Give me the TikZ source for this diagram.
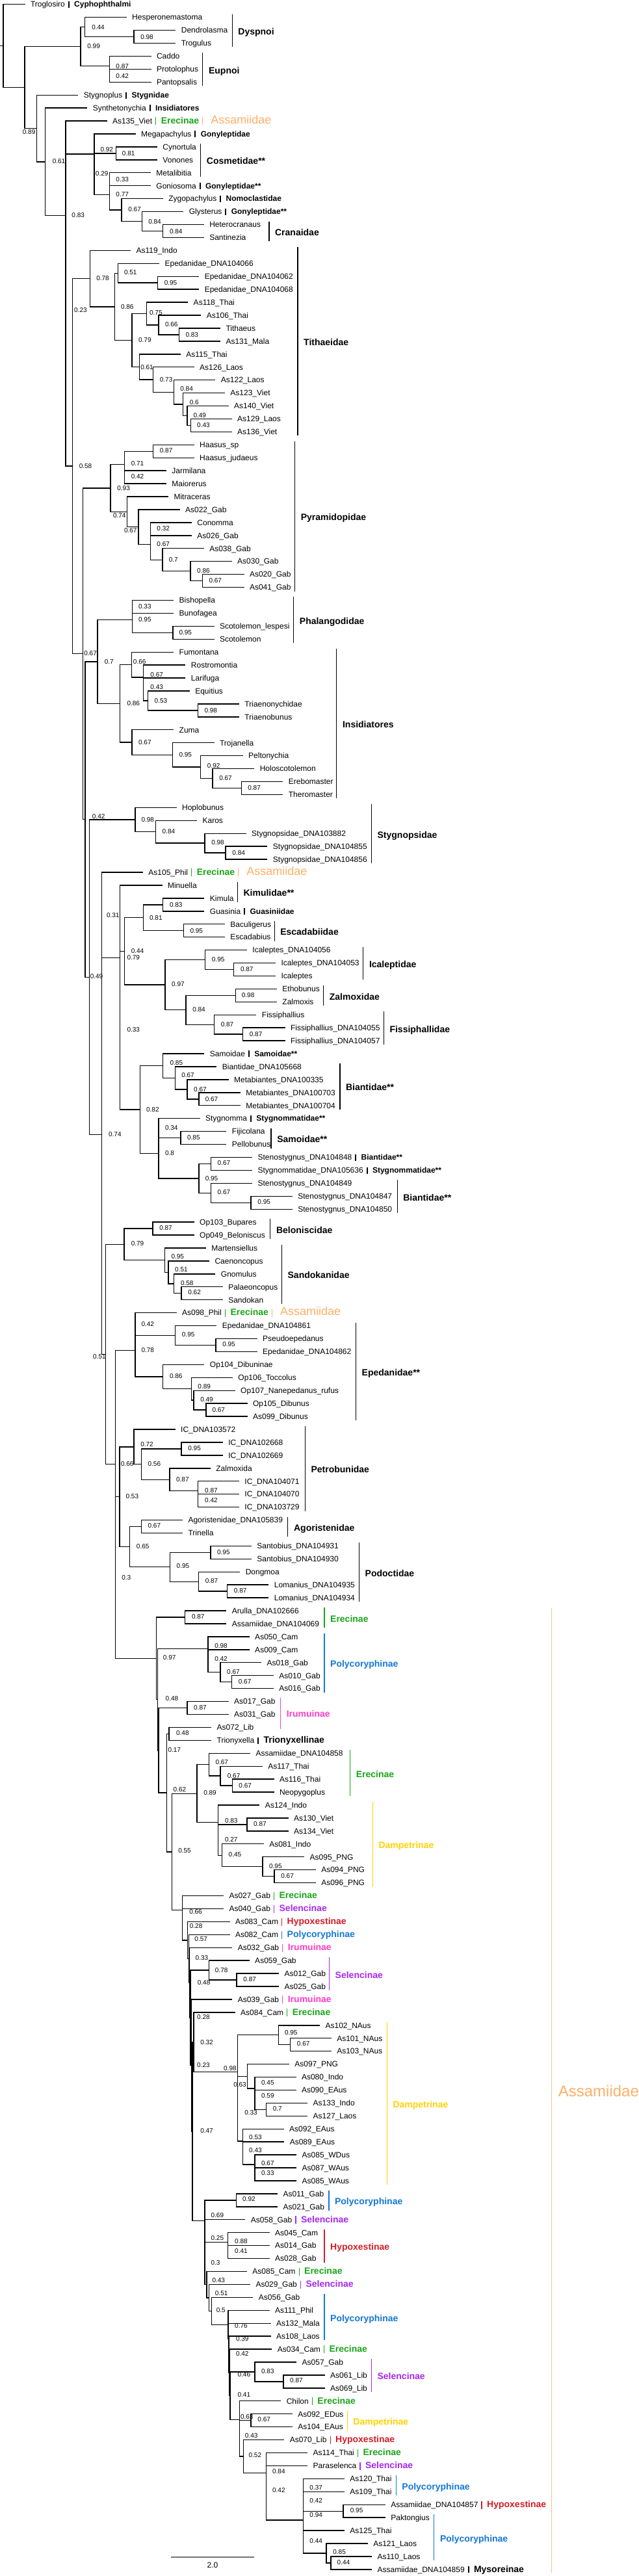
\documentclass[tikz,border=0pt]{standalone}
\usepackage{fontspec}
\setmainfont{Liberation Sans}
\usetikzlibrary{calc}
\definecolor{cE}{RGB}{25,165,25}
\definecolor{cP}{RGB}{20,120,215}
\definecolor{cI}{RGB}{255,60,200}
\definecolor{cS}{RGB}{165,40,240}
\definecolor{cH}{RGB}{210,30,40}
\definecolor{cD}{RGB}{255,210,0}
\definecolor{cA}{RGB}{255,175,105}
\definecolor{cAb}{RGB}{247,195,145}
\newcommand\lbk[1]{\hspace{5pt}\vrule width 1.8pt height 9pt depth 1pt\hspace{7.5pt}\textbf{#1}}
\newcommand\lbkb[1]{\hspace{5pt}\vrule width 1.8pt height 9pt depth 1pt\hspace{7.5pt}{\fontsize{14}{16}\selectfont\bfseries #1}}
\newcommand\lcl[2]{\hspace{5pt}{\color{#1}\vrule width 1.2pt height 10pt depth 2pt}\hspace{7.5pt}{\color{#1}\fontsize{14}{16}\selectfont\bfseries #2}}
\newcommand\lass{\hspace{5pt}{\color{cA}\vrule width 1.2pt height 10pt depth 2pt}\hspace{12pt}{\color{cA}\fontsize{18}{20}\selectfont Assamiidae}}
\newcommand\lf[3]{\coordinate (l#1) at (#2,{6.7+(#1-1)*19.93}); \node[leaf] (t#1) at (l#1) {#3};}
\newcommand\nd[7]{%
 \coordinate (tmp) at ($(#3)!0.5!(#4)$);
 \coordinate (#1) at (#2,0 |- tmp);
 \draw[br] (#1) |- (#3);
 \draw[br] (#1) |- (#4);
 \node[sup] (s#1) at (#6,#7) {#5};}
\newcommand\ndn[4]{%
 \coordinate (tmp) at ($(#3)!0.5!(#4)$);
 \coordinate (#1) at (#2,0 |- tmp);
 \draw[br] (#1) |- (#3);
 \draw[br] (#1) |- (#4);}
\newcommand\clb[5]{%
 \draw[cbar,#4] (#1,{6.7+(#2-1)*19.93-5}) -- (#1,{6.7+(#3-1)*19.93+6});
 \node[clab,text=#4] (cl#1x#2) at (#1,{6.7+(#2+#3-2)*19.93/2+2}) {#5};}
\begin{document}
\begin{tikzpicture}[x=0.63pt,y=-1pt,
 br/.style={line width=1.4pt,line cap=rect,line join=miter,black},
 cbar/.style={line width=1.2pt},
 leaf/.style={anchor=west,inner sep=0pt,xshift=9pt,text height=8.6pt,text depth=0pt,font=\fontsize{12}{14}\selectfont},
 sup/.style={anchor=west,inner sep=0pt,text height=7.2pt,text depth=0pt,font=\fontsize{10}{12}\selectfont},
 clab/.style={anchor=west,inner sep=0pt,xshift=9pt,text height=10pt,text depth=0pt,font=\fontsize{14}{16}\selectfont\bfseries}]
\useasboundingbox (0,0) rectangle (1560.3,3963);
\fill[white] (0,0) rectangle (1560.3,3963);
% leaves
\lf{1}{60}{Troglosiro\lbk{Cyphophthalmi}}
\lf{2}{308}{Hesperonemastoma}
\lf{3}{428}{Dendrolasma}
\lf{4}{428}{Trogulus}
\lf{5}{368}{Caddo}
\lf{6}{368}{Protolophus}
\lf{7}{368}{Pantopsalis}
\lf{8}{190}{Stygnoplus\lbk{Stygnidae}}
\lf{9}{212}{Synthetonychia\lbk{Insidiatores}}
\lf{10}{260}{As135\_Viet\lcl{cE}{Erecinae}\lass}
\lf{11}{330}{Megapachylus\lbk{Gonyleptidae}}
\lf{12}{383}{Cynortula}
\lf{13}{383}{Vonones}
\lf{14}{367}{Metalibitia}
\lf{15}{367}{Goniosoma\lbk{Gonyleptidae**}}
\lf{16}{397}{Zygopachylus\lbk{Nomoclastidae}}
\lf{17}{447}{Glysterus\lbk{Gonyleptidae**}}
\lf{18}{497}{Heterocranaus}
\lf{19}{497}{Santinezia}
\lf{20}{318}{As119\_Indo}
\lf{21}{388}{Epedanidae\_DNA104066}
\lf{22}{485}{Epedanidae\_DNA104062}
\lf{23}{485}{Epedanidae\_DNA104068}
\lf{24}{458}{As118\_Thai}
\lf{25}{490}{As106\_Thai}
\lf{26}{537}{Tithaeus}
\lf{27}{537}{As131\_Mala}
\lf{28}{440}{As115\_Thai}
\lf{29}{473}{As126\_Laos}
\lf{30}{525}{As122\_Laos}
\lf{31}{548}{As123\_Viet}
\lf{32}{557}{As140\_Viet}
\lf{33}{565}{As129\_Laos}
\lf{34}{565}{As136\_Viet}
\lf{35}{473}{Haasus\_sp}
\lf{36}{473}{Haasus\_judaeus}
\lf{37}{405}{Jarmilana}
\lf{38}{405}{Maiorerus}
\lf{39}{410}{Mitraceras}
\lf{40}{438}{As022\_Gab}
\lf{41}{467}{Conomma}
\lf{42}{467}{As026\_Gab}
\lf{43}{497}{As038\_Gab}
\lf{44}{565}{As030\_Gab}
\lf{45}{595}{As020\_Gab}
\lf{46}{595}{As041\_Gab}
\lf{47}{423}{Bishopella}
\lf{48}{423}{Bunofagea}
\lf{49}{522}{Scotolemon\_lespesi}
\lf{50}{522}{Scotolemon}
\lf{51}{423}{Fumontana}
\lf{52}{452}{Rostromontia}
\lf{53}{452}{Larifuga}
\lf{54}{462}{Equitius}
\lf{55}{583}{Triaenonychidae}
\lf{56}{583}{Triaenobunus}
\lf{57}{423}{Zuma}
\lf{58}{522}{Trojanella}
\lf{59}{592}{Peltonychia}
\lf{60}{620}{Holoscotolemon}
\lf{61}{690}{Erebomaster}
\lf{62}{690}{Theromaster}
\lf{63}{430}{Hoplobunus}
\lf{64}{480}{Karos}
\lf{65}{600}{Stygnopsidae\_DNA103882}
\lf{66}{652}{Stygnopsidae\_DNA104855}
\lf{67}{652}{Stygnopsidae\_DNA104856}
\lf{68}{348}{As105\_Phil\lcl{cE}{Erecinae}\lass}
\lf{69}{395}{Minuella}
\lf{70}{498}{Kimula}
\lf{71}{498}{Guasinia\lbk{Guasiniidae}}
\lf{72}{548}{Baculigerus}
\lf{73}{548}{Escadabius}
\lf{74}{602}{Icaleptes\_DNA104056}
\lf{75}{672}{Icaleptes\_DNA104053}
\lf{76}{672}{Icaleptes}
\lf{77}{675}{Ethobunus}
\lf{78}{675}{Zalmoxis}
\lf{79}{625}{Fissiphallius}
\lf{80}{695}{Fissiphallius\_DNA104055}
\lf{81}{695}{Fissiphallius\_DNA104057}
\lf{82}{498}{Samoidae\lbk{Samoidae**}}
\lf{83}{528}{Biantidae\_DNA105668}
\lf{84}{557}{Metabiantes\_DNA100335}
\lf{85}{586}{Metabiantes\_DNA100703}
\lf{86}{586}{Metabiantes\_DNA100704}
\lf{87}{487}{Stygnomma\lbk{Stygnommatidae**}}
\lf{88}{552}{Fijicolana}
\lf{89}{552}{Pellobunus}
\lf{90}{615}{Stenostygnus\_DNA104848\lbk{Biantidae**}}
\lf{91}{615}{Stygnommatidae\_DNA105636\lbk{Stygnommatidae**}}
\lf{92}{615}{Stenostygnus\_DNA104849}
\lf{93}{713}{Stenostygnus\_DNA104847}
\lf{94}{713}{Stenostygnus\_DNA104850}
\lf{95}{473}{Op103\_Bupares}
\lf{96}{473}{Op049\_Beloniscus}
\lf{97}{502}{Martensiellus}
\lf{98}{510}{Caenoncopus}
\lf{99}{525}{Gnomulus}
\lf{100}{543}{Palaeoncopus}
\lf{101}{543}{Sandokan}
\lf{102}{430}{As098\_Phil\lcl{cE}{Erecinae}\lass}
\lf{103}{528}{Epedanidae\_DNA104861}
\lf{104}{627}{Pseudoepedanus}
\lf{105}{627}{Epedanidae\_DNA104862}
\lf{106}{498}{Op104\_Dibuninae}
\lf{107}{567}{Op106\_Toccolus}
\lf{108}{573}{Op107\_Nanepedanus\_rufus}
\lf{109}{603}{Op105\_Dibunus}
\lf{110}{603}{As099\_Dibunus}
\lf{111}{427}{IC\_DNA103572}
\lf{112}{543}{IC\_DNA102668}
\lf{113}{543}{IC\_DNA102669}
\lf{114}{513}{Zalmoxida}
\lf{115}{583}{IC\_DNA104071}
\lf{116}{583}{IC\_DNA104070}
\lf{117}{583}{IC\_DNA103729}
\lf{118}{445}{Agoristenidae\_DNA105839}
\lf{119}{445}{Trinella}
\lf{120}{613}{Santobius\_DNA104931}
\lf{121}{613}{Santobius\_DNA104930}
\lf{122}{585}{Dongmoa}
\lf{123}{655}{Lomanius\_DNA104935}
\lf{124}{655}{Lomanius\_DNA104934}
\lf{125}{552}{Arulla\_DNA102666}
\lf{126}{552}{Assamiidae\_DNA104069}
\lf{127}{608}{As050\_Cam}
\lf{128}{608}{As009\_Cam}
\lf{129}{637}{As018\_Gab}
\lf{130}{667}{As010\_Gab}
\lf{131}{667}{As016\_Gab}
\lf{132}{557}{As017\_Gab}
\lf{133}{557}{As031\_Gab}
\lf{134}{515}{As072\_Lib}
\lf{135}{515}{Trionyxella\lbkb{Trionyxellinae}}
\lf{136}{610}{Assamiidae\_DNA104858}
\lf{137}{640}{As117\_Thai}
\lf{138}{668}{As116\_Thai}
\lf{139}{668}{Neopygoplus}
\lf{140}{633}{As124\_Indo}
\lf{141}{703}{As130\_Viet}
\lf{142}{703}{As134\_Viet}
\lf{143}{643}{As081\_Indo}
\lf{144}{742}{As095\_PNG}
\lf{145}{770}{As094\_PNG}
\lf{146}{770}{As096\_PNG}
\lf{147}{545}{As027\_Gab\lcl{cE}{Erecinae}}
\lf{148}{545}{As040\_Gab\lcl{cS}{Selencinae}}
\lf{149}{560}{As083\_Cam\lcl{cH}{Hypoxestinae}}
\lf{150}{560}{As082\_Cam\lcl{cP}{Polycoryphinae}}
\lf{151}{566}{As032\_Gab\lcl{cI}{Irumuinae}}
\lf{152}{608}{As059\_Gab}
\lf{153}{680}{As012\_Gab}
\lf{154}{680}{As025\_Gab}
\lf{155}{566}{As039\_Gab\lcl{cI}{Irumuinae}}
\lf{156}{573}{As084\_Cam\lcl{cE}{Erecinae}}
\lf{157}{780}{As102\_NAus}
\lf{158}{808}{As101\_NAus}
\lf{159}{808}{As103\_NAus}
\lf{160}{705}{As097\_PNG}
\lf{161}{722}{As080\_Indo}
\lf{162}{722}{As090\_EAus}
\lf{163}{750}{As133\_Indo}
\lf{164}{750}{As127\_Laos}
\lf{165}{692}{As092\_EAus}
\lf{166}{693}{As089\_EAus}
\lf{167}{723}{As085\_WDus}
\lf{168}{723}{As087\_WAus}
\lf{169}{723}{As085\_WAus}
\lf{170}{677}{As011\_Gab}
\lf{171}{677}{As021\_Gab}
\lf{172}{598}{As058\_Gab\lcl{cS}{Selencinae}}
\lf{173}{657}{As045\_Cam}
\lf{174}{657}{As014\_Gab}
\lf{175}{657}{As028\_Gab}
\lf{176}{602}{As085\_Cam\lcl{cE}{Erecinae}}
\lf{177}{610}{As029\_Gab\lcl{cS}{Selencinae}}
\lf{178}{617}{As056\_Gab}
\lf{179}{657}{As111\_Phil}
\lf{180}{660}{As132\_Mala}
\lf{181}{660}{As108\_Laos}
\lf{182}{663}{As034\_Cam\lcl{cE}{Erecinae}}
\lf{183}{723}{As057\_Gab}
\lf{184}{792}{As061\_Lib}
\lf{185}{792}{As069\_Lib}
\lf{186}{685}{Chilon\lcl{cE}{Erecinae}}
\lf{187}{713}{As092\_EDus}
\lf{188}{713}{As104\_EAus}
\lf{189}{693}{As070\_Lib\lcl{cH}{Hypoxestinae}}
\lf{190}{750}{As114\_Thai\lcl{cE}{Erecinae}}
\lf{191}{750}{Paraselenca\lcl{cS}{Selencinae}}
\lf{192}{840}{As120\_Thai}
\lf{193}{840}{As109\_Thai}
\lf{194}{940}{Assamiidae\_DNA104857\lcl{cH}{Hypoxestinae}}
\lf{195}{940}{Paktongius}
\lf{196}{840}{As125\_Thai}
\lf{197}{897}{As121\_Laos}
\lf{198}{907}{As110\_Laos}
\lf{199}{907}{Assamiidae\_DNA104859\lbkb{Mysoreinae}}
% internal nodes (children before parents)
\nd{f10}{808}{l198}{l199}{0.44}{823}{3941.7}
\nd{f9}{797}{l197}{f10}{0.85}{813}{3925.7}
\nd{f8}{740}{l196}{f9}{0.44}{756}{3909.3}
\nd{hy0}{838}{l194}{l195}{0.95}{855}{3861.7}
\nd{f7}{740}{l192}{l193}{0.37}{756}{3826.7}
\nd{f6}{740}{f7}{hy0}{0.42}{756}{3846.7}
\nd{f5}{740}{f6}{f8}{0.94}{756}{3869.3}
\nd{f4}{650}{l191}{f5}{0.42}{665}{3830.7}
\nd{f3}{650}{l190}{f4}{0.84}{665}{3801.7}
\nd{f2}{594}{l189}{f3}{0.52}{607}{3776.7}
\nd{dm0}{613}{l187}{l188}{0.67}{629}{3722.3}
\nd{f1}{585}{dm0}{f2}{0.43}{598}{3746.7}
\nd{f0}{585}{l186}{f1}{0.63}{587}{3717.7}
\nd{se1}{692}{l184}{l185}{0.87}{708}{3662.3}
\nd{se0}{622}{l183}{se1}{0.83}{638}{3647.7}
\nd{k5}{562}{se0}{f0}{0.41}{580}{3684.3}
\nd{k4}{560}{l182}{k5}{0.46}{580}{3653.3}
\nd{k3}{559}{l181}{k4}{0.42}{576}{3620.7}
\nd{k2}{558}{l180}{k3}{0.39}{576}{3598.3}
\nd{k1}{557}{l179}{k2}{0.76}{573}{3577.7}
\nd{ld6}{517}{l178}{k1}{0.5}{528}{3554.3}
\nd{ld5}{510}{l177}{ld6}{0.51}{525}{3528.3}
\nd{ld4}{505}{l176}{ld5}{0.43}{518}{3508.3}
\nd{hx1}{556}{l174}{l175}{0.41}{573}{3463.3}
\nd{hx0}{556}{l173}{hx1}{0.88}{573}{3448.3}
\nd{ld3}{500}{hx0}{ld4}{0.3}{515}{3480.7}
\nd{ld2}{500}{l172}{ld3}{0.25}{515}{3443.3}
\nd{ld1}{577}{l170}{l171}{0.92}{592}{3383.3}
\nd{ld0}{500}{ld1}{ld2}{0.69}{515}{3408.3}
\nd{da9}{622}{l168}{l169}{0.33}{638}{3343.3}
\nd{da8}{622}{l167}{da9}{0.67}{638}{3328.3}
\nd{da7}{593}{l166}{da8}{0.43}{608}{3308.3}
\nd{da6}{593}{l165}{da7}{0.53}{608}{3288.3}
\nd{da5b}{650}{l163}{l164}{0.7}{666}{3244.3}
\nd{da5}{622}{l162}{da5b}{0.59}{638}{3224.3}
\nd{da4}{622}{l161}{da5}{0.45}{638}{3204.3}
\nd{da3}{604}{l160}{da4}{0.63}{570}{3206.7}
\nd{da2}{580}{da3}{da6}{0.33}{597}{3250}
\nd{da1b}{709}{l158}{l159}{0.67}{725}{3144.3}
\nd{da1}{680}{l157}{da1b}{0.95}{695}{3127.3}
\nd{da0}{580}{da1}{da2}{0.98}{546}{3181.7}
\nd{lw8}{473}{l156}{da0}{0.32}{489}{3141.7}
\nd{lw7}{470}{lw8}{ld0}{0.47}{489}{3278.3}
\nd{lw6}{467}{l155}{lw7}{0.23}{481}{3176.7}
\nd{sl1}{578}{l153}{l154}{0.87}{594}{3045}
\nd{sl0}{510}{l152}{sl1}{0.78}{525}{3030.7}
\nd{lw5}{465}{sl0}{lw6}{0.28}{481}{3103.3}
\nd{lw4}{463}{l151}{lw5}{0.48}{482}{3050}
\nd{lw3}{461}{l150}{lw4}{0.33}{477}{3012.3}
\nd{lw2}{458}{l149}{lw3}{0.57}{475}{2983.3}
\nd{lw1}{445}{l148}{lw2}{0.28}{463}{2962.7}
\nd{lw0}{445}{l147}{lw1}{0.66}{462}{2940.7}
\nd{dp5}{670}{l145}{l146}{0.67}{686}{2885.7}
\nd{dp4}{641}{l144}{dp5}{0.95}{657}{2870.7}
\nd{dp3}{542}{l143}{dp4}{0.45}{558}{2853.3}
\nd{dp2}{603}{l141}{l142}{0.87}{619}{2805.7}
\nd{dp1}{533}{dp2}{dp3}{0.27}{549}{2830}
\nd{dp0}{533}{l140}{dp1}{0.83}{549}{2800.7}
\nd{er3}{567}{l138}{l139}{0.67}{583}{2746.7}
\nd{er2}{538}{l137}{er3}{0.67}{555}{2731.7}
\nd{er1}{510}{l136}{er2}{0.67}{526}{2710.7}
\nd{er0}{481}{er1}{dp0}{0.89}{497}{2758.3}
\nd{as5}{420}{er0}{lw0}{0.55}{435}{2847.3}
\nd{tr0}{413}{l134}{l135}{0.48}{430}{2666}
\nd{as4}{407}{tr0}{as5}{0.62}{423}{2753.3}
\nd{ir0}{457}{l132}{l133}{0.87}{473}{2626.7}
\nd{as3}{387}{ir0}{as4}{0.17}{410}{2691.7}
\nd{pc3}{566}{l130}{l131}{0.67}{582}{2586.7}
\nd{pc2}{538}{l129}{pc3}{0.67}{554}{2571.7}
\nd{pc1}{508}{l128}{pc2}{0.42}{524}{2551.7}
\nd{pc0}{508}{l127}{pc1}{0.98}{524}{2531.7}
\nd{as2}{385}{pc0}{as3}{0.48}{404}{2613.3}
\nd{as1}{452}{l125}{l126}{0.87}{468}{2487.3}
\nd{as0}{382}{as1}{as2}{0.97}{398}{2550}
\nd{po3}{555}{l123}{l124}{0.87}{571}{2447.3}
\nd{po2}{485}{l122}{po3}{0.87}{501}{2432.3}
\nd{po1}{514}{l120}{l121}{0.95}{530}{2387.7}
\nd{po0}{415}{po1}{po2}{0.95}{431}{2409.3}
\nd{ag1}{345}{l118}{l119}{0.67}{361}{2347.3}
\nd{ag0}{317}{ag1}{po0}{0.65}{333}{2379}
\nd{pe5}{483}{l116}{l117}{0.42}{500}{2307.7}
\nd{pe4}{483}{l115}{pe5}{0.87}{500}{2292.7}
\nd{pe3}{414}{l114}{pe4}{0.87}{430}{2275.7}
\nd{pe2}{443}{l112}{l113}{0.95}{459}{2228.3}
\nd{pe1}{345}{pe2}{pe3}{0.56}{361}{2251.7}
\nd{pe0}{327}{l111}{pe1}{0.72}{343}{2221.7}
\nd{w2}{292}{pe0}{ag0}{0.53}{307}{2301.7}
\nd{w1}{282}{w2}{as0}{0.3}{297}{2426.7}
\nd{ep6}{503}{l109}{l110}{0.67}{518}{2168.7}
\nd{ep5}{473}{l108}{ep6}{0.49}{489}{2153.3}
\nd{ep4}{467}{l107}{ep5}{0.89}{483}{2132.7}
\nd{ep3}{398}{l106}{ep4}{0.86}{414}{2117.3}
\nd{ep2b}{527}{l104}{l105}{0.95}{543}{2068.3}
\nd{ep2}{428}{l103}{ep2b}{0.95}{444}{2053.3}
\nd{ep1}{330}{l102}{ep2}{0.42}{345}{2036.7}
\nd{ep0}{330}{ep1}{ep3}{0.78}{345}{2076.7}
\nd{w0}{282}{ep0}{w1}{0.66}{295}{2251.7}
\nd{q6}{443}{l100}{l101}{0.62}{459}{1988.3}
\nd{q5}{425}{l99}{q6}{0.58}{441}{1974}
\nd{q4}{411}{l98}{q5}{0.51}{427}{1953.3}
\nd{q3}{402}{l97}{q4}{0.95}{418}{1933.3}
\nd{q2}{373}{l95}{l96}{0.87}{389}{1889.3}
\nd{q1}{303}{q2}{q3}{0.79}{320}{1913.3}
\nd{q0}{258}{q1}{w0}{0.51}{227}{2087.3}
\nd{bi11}{613}{l93}{l94}{0.95}{629}{1849.3}
\nd{bi10}{515}{l92}{bi11}{0.67}{531}{1834.3}
\nd{bi9}{515}{l90}{l91}{0.67}{531}{1789.3}
\nd{bi8}{486}{bi9}{bi10}{0.95}{501}{1812.7}
\nd{bi7}{441}{l88}{l89}{0.85}{457}{1750}
\nd{bi6}{387}{l87}{bi7}{0.34}{403}{1735}
\nd{bi5}{387}{bi6}{bi8}{0.8}{403}{1774}
\nd{bi4}{486}{l85}{l86}{0.67}{501}{1690.7}
\nd{bi3}{457}{l84}{bi4}{0.67}{473}{1675.7}
\nd{bi2}{428}{l83}{bi3}{0.67}{443}{1654.3}
\nd{bi1}{398}{l82}{bi2}{0.85}{415}{1635}
\nd{bi0}{342}{bi1}{bi5}{0.82}{357}{1706.7}
\nd{m14}{593}{l80}{l81}{0.87}{609}{1590.7}
\nd{m13}{523}{l79}{m14}{0.87}{539}{1575.7}
\nd{m12}{575}{l77}{l78}{0.98}{590}{1530.7}
\nd{m11}{454}{m12}{m13}{0.84}{470}{1553.3}
\nd{m10}{571}{l75}{l76}{0.87}{587}{1490.7}
\nd{m9}{501}{l74}{m10}{0.95}{517}{1475.7}
\nd{m8}{403}{m9}{m11}{0.97}{419}{1514.3}
\nd{m7}{448}{l72}{l73}{0.95}{464}{1431.7}
\nd{m6}{398}{l70}{l71}{0.83}{414}{1391.7}
\nd{m5}{350}{m6}{m7}{0.81}{365}{1411.7}
\nd{m4}{304}{m5}{m8}{0.44}{320}{1462.7}
\nd{m3}{293}{m4}{bi0}{0.33}{310}{1584.3}
\nd{m2}{293}{l69}{m3}{0.79}{310}{1472.7}
\nd{m1}{248}{l68}{m2}{0.31}{260}{1407.7}
\nd{m0}{248}{m1}{q0}{0.74}{265}{1745}
\nd{s3}{551}{l66}{l67}{0.84}{567}{1311.7}
\nd{s2}{500}{l65}{s3}{0.98}{516}{1296}
\nd{s1}{380}{l64}{s2}{0.84}{396}{1279.3}
\nd{s0}{330}{l63}{s1}{0.98}{345}{1260.7}
\nd{j2}{218}{s0}{m0}{0.49}{220}{1502.3}
\nd{in9}{590}{l61}{l62}{0.87}{605}{1211.7}
\nd{in8}{519}{l60}{in9}{0.67}{535}{1196.7}
\nd{in7}{490}{l59}{in8}{0.92}{506}{1177.7}
\nd{in6}{421}{l58}{in7}{0.95}{437}{1161}
\nd{in5}{322}{l57}{in6}{0.67}{338}{1141.7}
\nd{in4b}{483}{l55}{l56}{0.98}{499}{1092.7}
\nd{in4}{361}{l54}{in4b}{0.53}{377}{1077.7}
\nd{in3}{350}{l53}{in4}{0.43}{367}{1056.7}
\nd{in2}{350}{l52}{in3}{0.67}{367}{1037.7}
\nd{in1}{321}{l51}{in2}{0.66}{325}{1018.3}
\nd{in0}{293}{in1}{in5}{0.86}{310}{1081.7}
\nd{ph3}{422}{l49}{l50}{0.95}{437}{972.7}
\nd{ph2}{323}{l47}{l48}{0.33}{338}{932.7}
\nd{ph1}{323}{ph2}{ph3}{0.95}{338}{952.7}
\nd{k0}{238}{ph1}{in0}{0.7}{255}{1018.3}
\nd{j1}{208}{k0}{j2}{0.42}{225}{1255.7}
\nd{p9}{494}{l45}{l46}{0.67}{510}{893.3}
\nd{p8}{465}{l44}{p9}{0.86}{481}{878.3}
\nd{p7}{397}{l43}{p8}{0.7}{412}{860.7}
\nd{p6}{367}{l41}{l42}{0.32}{383}{813.3}
\nd{p5}{367}{p6}{p7}{0.67}{383}{837.3}
\nd{p4}{338}{l40}{p5}{0.67}{303}{815.7}
\nd{p3}{310}{l39}{p4}{0.74}{276}{793.3}
\nd{p1b}{304}{l37}{l38}{0.42}{320}{733.3}
\nd{p2}{374}{l35}{l36}{0.87}{390}{693.3}
\nd{p1}{304}{p2}{p1b}{0.71}{320}{713.3}
\nd{p0}{270}{p1}{p3}{0.93}{286}{750.7}
\nd{i1}{202}{p0}{j1}{0.67}{205}{1005}
\nd{t9}{466}{l33}{l34}{0.43}{481}{654.3}
\nd{t8}{457}{l32}{t9}{0.49}{472}{639.3}
\nd{t7}{447}{l31}{t8}{0.6}{463}{619.3}
\nd{t6}{425}{l30}{t7}{0.84}{440}{598.3}
\nd{t5}{374}{l29}{t6}{0.73}{390}{584}
\nd{t4}{340}{l28}{t5}{0.61}{343}{564.7}
\nd{t3c}{437}{l26}{l27}{0.83}{453}{514.7}
\nd{t3b}{387}{l25}{t3c}{0.66}{403}{499.3}
\nd{t3}{358}{l24}{t3b}{0.75}{365}{480.7}
\nd{t2}{322}{t3}{t4}{0.79}{338}{523.3}
\nd{te2}{385}{l22}{l23}{0.95}{401}{434.7}
\nd{te}{288}{l21}{te2}{0.51}{303}{419.3}
\nd{t1}{280}{te}{t2}{0.86}{295}{471.7}
\nd{t0}{220}{l20}{t1}{0.78}{235}{428.3}
\nd{h1}{177}{t0}{i1}{0.58}{193}{716.7}
\nd{z398}{398}{l18}{l19}{0.84}{414}{355.7}
\nd{z347}{347}{l17}{z398}{0.84}{362}{340.7}
\nd{z297}{297}{l16}{z347}{0.67}{313}{322.3}
\nd{mg}{267}{l14}{l15}{0.33}{283}{275.7}
\nd{ga}{267}{mg}{z297}{0.77}{283}{299}
\nd{cv}{283}{l12}{l13}{0.81}{298}{235.7}
\nd{g2}{230}{cv}{ga}{0.29}{233}{266.7}
\nd{g1}{230}{l11}{g2}{0.92}{245}{230}
\nd{e2}{160}{g1}{h1}{0.23}{181}{476.7}
\nd{e1}{160}{l10}{e2}{0.83}{175}{331}
\nd{d1}{110}{l9}{e1}{0.61}{128}{248.3}
\nd{c1}{90}{l8}{d1}{0.89}{55}{203.3}
\nd{pp}{267}{l6}{l7}{0.42}{283}{116.7}
\nd{eup}{267}{l5}{pp}{0.87}{283}{101.7}
\nd{dt}{327}{l3}{l4}{0.98}{343}{56.7}
\nd{dys}{207}{l2}{dt}{0.44}{224}{41.7}
\nd{b1}{197}{dys}{eup}{0.99}{213}{71}
\ndn{a1}{60}{b1}{c1}
\ndn{r0}{8}{l1}{a1}
\draw[br] (r0) -- ++(-8,0);
% clade bars
\clb{567}{2}{4}{black}{Dyspnoi}
\clb{495}{5}{7}{black}{Eupnoi}
\clb{490}{12}{14}{black}{Cosmetidae**}
\clb{657}{18}{19}{black}{Cranaidae}
\clb{727}{20}{34}{black}{Tithaeidae}
\clb{720}{35}{46}{black}{Pyramidopidae}
\clb{717}{47}{50}{black}{Phalangodidae}
\clb{822}{51}{62}{black}{Insidiatores}
\clb{907}{63}{67}{black}{Stygnopsidae}
\clb{580}{69}{70}{black}{Kimulidae**}
\clb{670}{72}{73}{black}{Escadabiidae}
\clb{887}{74}{76}{black}{Icaleptidae}
\clb{790}{77}{78}{black}{Zalmoxidae}
\clb{937}{79}{81}{black}{Fissiphallidae}
\clb{830}{83}{86}{black}{Biantidae**}
\clb{662}{88}{89}{black}{Samoidae**}
\clb{970}{92}{94}{black}{Biantidae**}
\clb{660}{95}{96}{black}{Beloniscidae}
\clb{688}{97}{101}{black}{Sandokanidae}
\clb{869}{103}{110}{black}{Epedanidae**}
\clb{745}{111}{117}{black}{Petrobunidae}
\clb{703}{118}{119}{black}{Agoristenidae}
\clb{877}{120}{124}{black}{Podoctidae}
\clb{792}{125}{126}{cE}{Erecinae}
\clb{792}{127}{131}{cP}{Polycoryphinae}
\draw[cbar,cI] (685,2612) -- (685,2660);
\node[clab,text=cI] (clIru) at (685,2636.7) {Irumuinae};
\clb{855}{136}{139}{cE}{Erecinae}
\clb{910}{140}{146}{cD}{Dampetrinae}
\clb{804}{152}{154}{cS}{Selencinae}
\clb{945}{157}{169}{cD}{Dampetrinae}
\clb{803}{170}{171}{cP}{Polycoryphinae}
\clb{792}{173}{175}{cH}{Hypoxestinae}
\clb{792}{178}{181}{cP}{Polycoryphinae}
\clb{907}{183}{185}{cS}{Selencinae}
\clb{848}{187}{188}{cD}{Dampetrinae}
\clb{967}{192}{193}{cP}{Polycoryphinae}
\clb{1060}{195}{198}{cP}{Polycoryphinae}
% Assamiidae big
\draw[cbar,cAb,line width=1.5pt] (1347,2473.5) -- (1347,3958);
\node[anchor=west,inner sep=0pt,xshift=10pt,text height=17pt,text depth=0pt,font=\fontsize{24}{26}\selectfont,text=cA] (bigA) at (1347,3216.7) {Assamiidae};
% scale bar
\draw[line width=2pt,black!55] (417,3934) coordinate (sb1) -- (620,3934) coordinate (sb2);
\node[inner sep=0pt,font=\fontsize{12}{14}\selectfont] (sbl) at (519,3946) {2.0};
\end{tikzpicture}
\end{document}
